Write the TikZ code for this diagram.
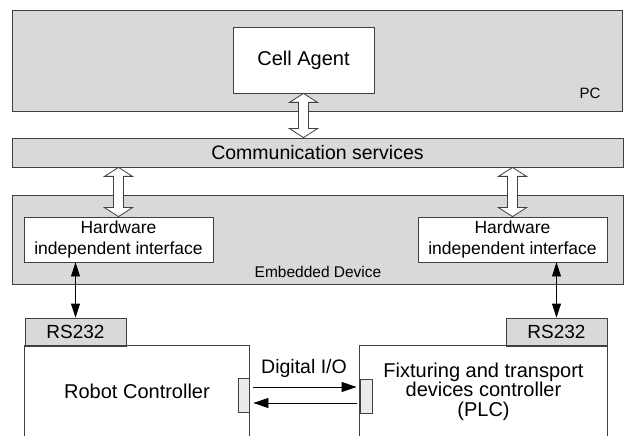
\documentclass[tikz,border=0pt]{standalone}
\usepackage{fontspec}
\setmainfont{Liberation Sans}
\usetikzlibrary{arrows.meta,calc}

% hollow double arrow between two points on one vertical
\newcommand{\fatarrow}[2]{%
  \filldraw[draw=black!75,fill=white,line width=0.8pt] let \p1=(#1), \p2=(#2) in
    (\x1,\y1) -- (\x1+14pt,\y1-9pt) -- (\x1+5pt,\y1-9pt) -- (\x1+5pt,\y2+9pt)
    -- (\x1+14pt,\y2+9pt) -- (\x1,\y2) -- (\x1-14pt,\y2+9pt) -- (\x1-5pt,\y2+9pt)
    -- (\x1-5pt,\y1-9pt) -- (\x1-14pt,\y1-9pt) -- cycle;}

\begin{document}
\begin{tikzpicture}[x=1pt,y=-1pt,
			area node/.style={rectangle,draw=black!75,fill=black!15,line width=0.8pt,inner sep=0pt},
			block node/.style={rectangle,draw=black!75,fill=white,line width=0.8pt,inner sep=0pt,align=center},
			port node/.style={rectangle,draw=black!75,fill=black!15,line width=0.8pt,inner sep=0pt},
			plug node/.style={rectangle,draw=black!75,fill=black!8,line width=0.8pt,inner sep=0pt},
			link/.style={line width=0.8pt,{Triangle[length=14pt,width=9pt]}-{Triangle[length=14pt,width=9pt]}},
			io link/.style={line width=0.8pt,-{Triangle[length=15pt,width=10pt]}}
			]
			
			\useasboundingbox (0,0) rectangle (625,436);
			
			% PC
			\node[area node,minimum width=610pt,minimum height=101pt] (pc) at (317,60.5) {};
			\node[font=\fontsize{15}{18}\selectfont] (pclabel) at (590,93) {PC};
			\node[block node,minimum width=141pt,minimum height=66pt,font=\fontsize{20}{22}\selectfont] (ca) at (303.5,60) {Cell Agent};
			
			% communication
			\node[area node,minimum width=611pt,minimum height=29pt,font=\fontsize{19.5}{20}\selectfont] (comm) at (317.5,152.5) {Communication services};
			
			% embedded device
			\node[area node,minimum width=611pt,minimum height=89pt] (emb) at (317.5,239.5) {};
			\node[font=\fontsize{15.5}{16}\selectfont] (emblabel) at (318,272) {Embedded Device};
			\node[block node,minimum width=189pt,minimum height=45pt,font=\fontsize{17.5}{20.5}\selectfont] (hwl) at (118.5,239.5) {Hardware\\independent interface};
			\node[block node,minimum width=189pt,minimum height=45pt,font=\fontsize{17.5}{20.5}\selectfont] (hwr) at (512.5,239.5) {Hardware\\independent interface};
			
			% controllers
			\node[port node,minimum width=101pt,minimum height=28pt,font=\fontsize{19}{20}\selectfont] (rsl) at (75.5,332) {RS232};
			\node[port node,minimum width=101pt,minimum height=28pt,font=\fontsize{19}{20}\selectfont] (rsr) at (556.5,332) {RS232};
			\node[minimum width=224pt,minimum height=91pt,inner sep=0pt,font=\fontsize{20}{22}\selectfont] (rc) at (137,391.5) {Robot Controller};
			\node[minimum width=247pt,minimum height=91pt,inner sep=0pt,align=center,font=\fontsize{20}{19.5}\selectfont] (plc) at (483.5,391.5) {Fixturing and transport\\devices controller\\(PLC)};
			\draw[black!75,line width=0.8pt] (rc.south west) -- (rc.north west) -- (rc.north east) -- (rc.south east);
			\draw[black!75,line width=0.8pt] (plc.south west) -- (plc.north west) -- (plc.north east) -- (plc.south east);
			\node[plug node,minimum width=11pt,minimum height=34pt] (plugl) at (243.5,395) {};
			\node[plug node,minimum width=12pt,minimum height=34pt] (plugr) at (366,396) {};
			\node[font=\fontsize{19.5}{20}\selectfont] (dio) at (304,368) {Digital I/O};
			
			% connections
			\fatarrow{ca.south}{ca.south |- comm.north}
			\fatarrow{hwl.north |- comm.south}{hwl.north}
			\fatarrow{hwr.north |- comm.south}{hwr.north}
			\draw[link] (rsl.north |- hwl.south) -- (rsl.north);
			\draw[link] (rsr.north |- hwr.south) -- (rsr.north);
			\draw[io link] ($(plugl.east)+(4,-8)$) -- ($(plugl.east -| plugr.west)+(-3,-8)$);
			\draw[io link] ($(plugl.east -| plugr.west)+(-3,8)$) -- ($(plugl.east)+(4,8)$);
			
\end{tikzpicture}
\end{document}
